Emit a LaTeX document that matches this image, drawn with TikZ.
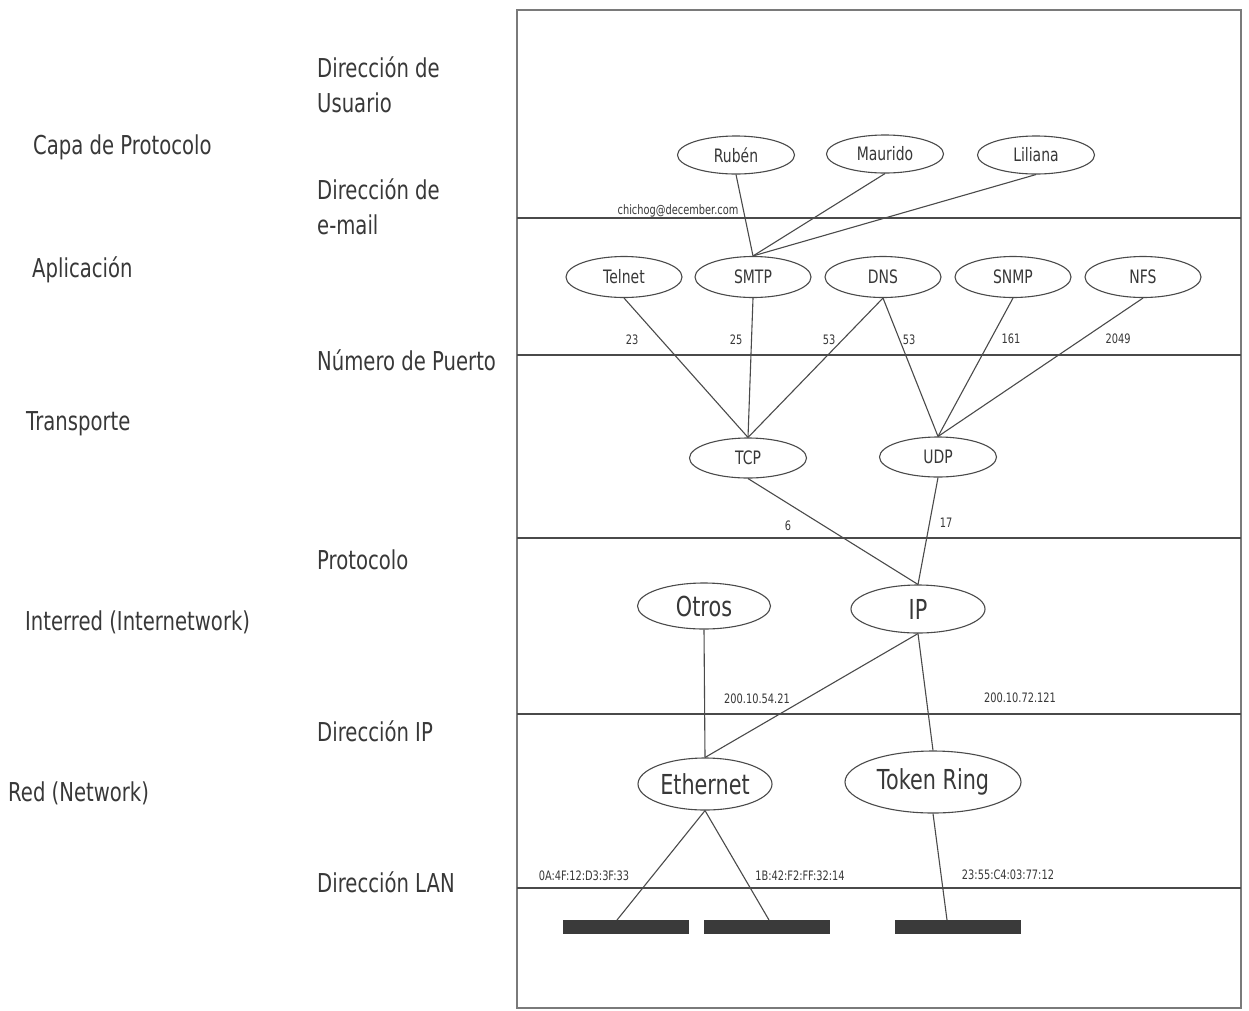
\documentclass[tikz,border=0pt]{standalone}
\usepackage{fontspec}
\setmainfont[FakeStretch=0.755]{DejaVu Sans}
\usetikzlibrary{shapes.geometric}
\definecolor{txt}{HTML}{383838}
\definecolor{edge}{HTML}{4A4A4A}
\definecolor{boxc}{HTML}{7A7A7A}
\definecolor{barc}{HTML}{3A3A3A}
\begin{document}
\begin{tikzpicture}[x=1pt,y=-1pt,
  lab/.style={anchor=base west, inner sep=0, text=txt, font=\fontsize{26}{35}\selectfont},
  ell/.style={ellipse, draw=edge, line width=1.1pt, inner sep=0, text=txt, font=\fontsize{18.5}{20}\selectfont},
  bigell/.style={ell, font=\fontsize{27.5}{30}\selectfont},
  small/.style={inner sep=0, text=txt, font=\fontsize{13}{15}\selectfont},
  conn/.style={draw=edge, line width=1.1pt},
  layer/.style={draw=edge, line width=1.3pt},
  lanbar/.style={fill=barc, draw=none, minimum width=126, minimum height=14, inner sep=0}
]
\useasboundingbox[fill=white] (0,0) rectangle (1249,1010);

% frame and layer separators
\draw[draw=boxc, line width=1.5pt] (517,10) rectangle (1241,1008);
\foreach \yy in {218,355,538,714,888}
  \draw[layer] (517,\yy) -- (1241,\yy);

% left column: layers
\node[lab] (capa) at (33,154) {Capa de Protocolo};
\node[lab] (apl) at (32,277) {Aplicación};
\node[lab] (tra) at (26,430) {Transporte};
\node[lab] (inter) at (25,630) {Interred (Internetwork)};
\node[lab] (red) at (8,801) {Red (Network)};

% second column: address kinds
\node[lab] (du1) at (317,77) {Dirección de};
\node[lab] (du2) at (317,112) {Usuario};
\node[lab] (de1) at (317,199) {Dirección de};
\node[lab] (de2) at (317,234) {e-mail};
\node[lab] (np) at (317,370) {Número de Puerto};
\node[lab] (pr) at (317,569) {Protocolo};
\node[lab] (dip) at (317,741) {Dirección IP};
\node[lab] (dlan) at (317,892) {Dirección LAN};

% ellipses
\node[ell, minimum width=117, minimum height=38] (rub) at (736,155) {Rubén};
\node[ell, minimum width=117, minimum height=38] (mau) at (885,154) {Maurido};
\node[ell, minimum width=117, minimum height=38] (lil) at (1036,155) {Liliana};

\node[ell, minimum width=116, minimum height=41] (tel) at (624,277) {Telnet};
\node[ell, minimum width=116, minimum height=41] (smtp) at (753,277) {SMTP};
\node[ell, minimum width=116, minimum height=41] (dns) at (883,277) {DNS};
\node[ell, minimum width=116, minimum height=41] (snmp) at (1013,277) {SNMP};
\node[ell, minimum width=116, minimum height=41] (nfs) at (1143,277) {NFS};

\node[ell, minimum width=117, minimum height=40] (tcp) at (748,458) {TCP};
\node[ell, minimum width=117, minimum height=40] (udp) at (938,457) {UDP};

\node[bigell, minimum width=133, minimum height=46] (otros) at (704,606) {Otros};
\node[bigell, minimum width=134, minimum height=48] (ip) at (918,609) {IP};

\node[bigell, minimum width=134, minimum height=52] (eth) at (705,784) {Ethernet};
\node[bigell, minimum width=176, minimum height=62] (tr) at (933,782) {Token Ring};

% LAN segments
\node[lanbar] (b1) at (626,927) {};
\node[lanbar] (b2) at (767,927) {};
\node[lanbar] (b3) at (958,926.5) {};
\coordinate (e1) at (617,920);
\coordinate (e2) at (769,920);
\coordinate (e3) at (947,920);

% connectors
\draw[conn] (rub.south) -- (smtp.north);
\draw[conn] (mau.south) -- (smtp.north);
\draw[conn] (lil.south) -- (smtp.north);
\draw[conn] (tel.south) -- (tcp.north);
\draw[conn] (smtp.south) -- (tcp.north);
\draw[conn] (dns.south) -- (tcp.north);
\draw[conn] (dns.south) -- (udp.north);
\draw[conn] (snmp.south) -- (udp.north);
\draw[conn] (nfs.south) -- (udp.north);
\draw[conn] (tcp.south) -- (ip.north);
\draw[conn] (udp.south) -- (ip.north);
\draw[conn] (otros.south) -- (eth.north);
\draw[conn] (ip.south) -- (eth.north);
\draw[conn] (ip.south) -- (tr.north);
\draw[conn] (eth.south) -- (e1);
\draw[conn] (eth.south) -- (e2);
\draw[conn] (tr.south) -- (e3);

% small labels
\node[small] (mail) at (678,211) {chichog@december.com};
\node[small] (p23) at (632,340) {23};
\node[small] (p25) at (736,340) {25};
\node[small] (p53a) at (829,340) {53};
\node[small] (p53b) at (909,340) {53};
\node[small] (p161) at (1011,339) {161};
\node[small] (p2049) at (1118,339) {2049};
\node[small] (pr6) at (788,526) {6};
\node[small] (pr17) at (946,523) {17};
\node[small] (ip1) at (757,699) {200.10.54.21};
\node[small] (ip2) at (1020,698) {200.10.72.121};
\node[small] (mac1) at (584,876) {0A:4F:12:D3:3F:33};
\node[small] (mac2) at (800,876) {1B:42:F2:FF:32:14};
\node[small] (mac3) at (1008,875) {23:55:C4:03:77:12};
\end{tikzpicture}
\end{document}
